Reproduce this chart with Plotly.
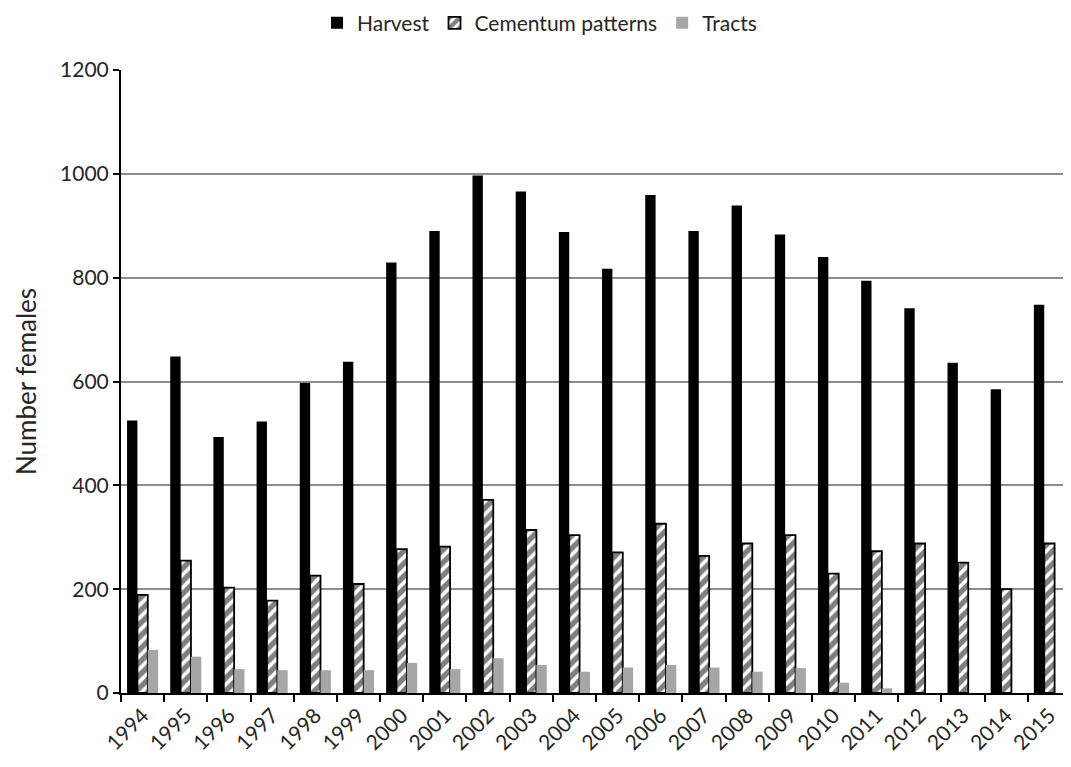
import plotly.graph_objects as go

# years on the x axis
years = [str(y) for y in range(1994, 2016)]

# number of females per year
harvest = [525, 648, 493, 523, 597, 638, 829, 890, 997, 966, 888,
           817, 959, 890, 939, 883, 840, 794, 741, 636, 585, 748]
cementum = [189, 255, 203, 178, 226, 210, 277, 282, 372, 314, 304,
            271, 326, 264, 288, 304, 230, 273, 288, 251, 200, 288]
tracts = [83, 70, 46, 44, 44, 44, 58, 46, 67, 54, 41,
          49, 54, 49, 41, 48, 20, 9, 0, 0, 0, 0]

font_family = "Lato, 'Open Sans', sans-serif"

fig = go.Figure()

# solid black bars
fig.add_trace(go.Bar(
    x=years, y=harvest, name="Harvest",
    marker=dict(color="black", line=dict(color="black", width=0)),
))

# hatched bars with black outline
fig.add_trace(go.Bar(
    x=years, y=cementum, name="Cementum patterns",
    marker=dict(
        color="white",
        line=dict(color="black", width=1.8),
        pattern=dict(shape="/", fgcolor="black", bgcolor="white",
                     size=9, solidity=0.6, fillmode="overlay"),
    ),
))

# grey bars
fig.add_trace(go.Bar(
    x=years, y=tracts, name="Tracts",
    marker=dict(color="#a6a6a6", line=dict(color="#a6a6a6", width=0)),
))

# page body has an 8px margin, so the figure is a bit smaller
fig.update_layout(
    width=1063,
    height=759,
    barmode="group",
    bargap=0.28,
    bargroupgap=0,
    paper_bgcolor="white",
    plot_bgcolor="white",
    font=dict(family=font_family, size=21, color="#262626"),
    margin=dict(l=113, r=0, t=62, b=74),
    legend=dict(
        orientation="h",
        xref="container", yref="container",
        x=0.5, y=0.98,
        xanchor="center", yanchor="middle",
        font=dict(size=21),
        traceorder="normal",
    ),
    showlegend=True,
)

fig.update_yaxes(
    range=[0, 1200],
    dtick=200,
    showgrid=True,
    gridcolor="#8c8c8c",
    gridwidth=1.5,
    showline=True,
    linecolor="black",
    linewidth=2,
    ticks="outside",
    ticklen=6,
    tickcolor="black",
    tickwidth=2,
    zeroline=False,
    title=dict(text="Number females", font=dict(size=26), standoff=16),
    tickfont=dict(size=21),
)

fig.update_xaxes(
    type="category",
    showline=True,
    linecolor="black",
    linewidth=2,
    ticks="outside",
    tickson="boundaries",
    ticklen=7,
    tickcolor="black",
    tickwidth=2,
    tickangle=-45,
    tickfont=dict(size=21),
    showgrid=False,
)

fig.write_html("out.html")
